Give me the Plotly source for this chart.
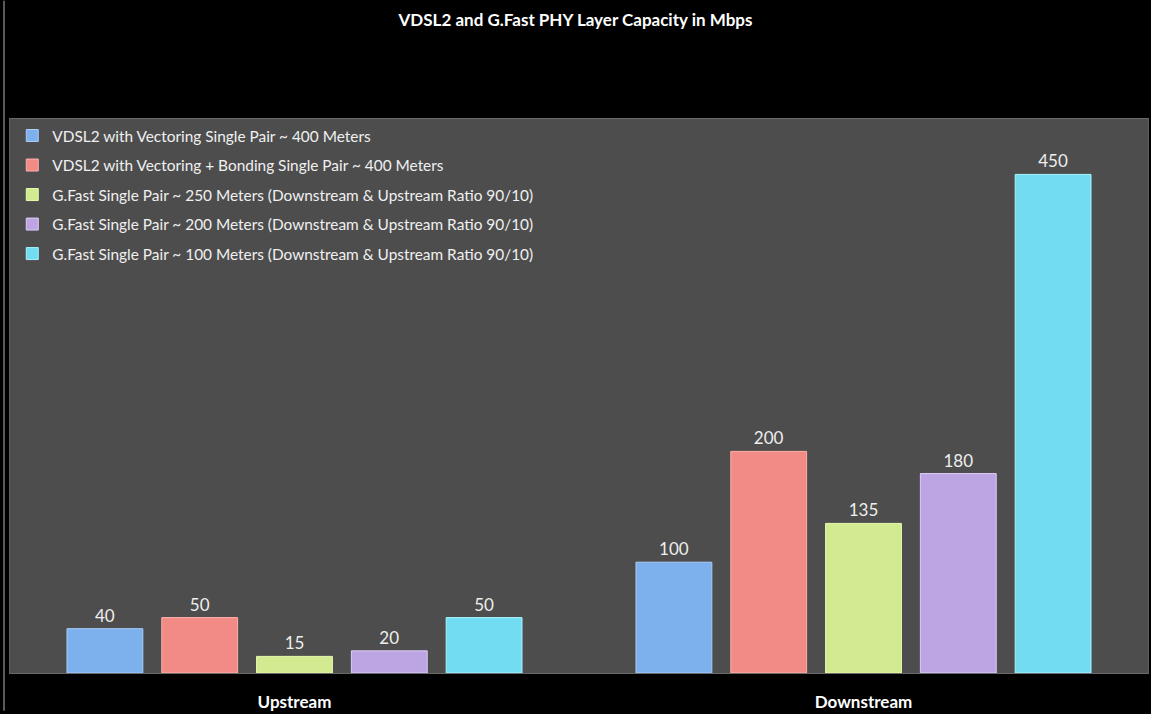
import plotly.graph_objects as go

categories = ["Upstream", "Downstream"]
series_names = [
    "VDSL2 with Vectoring Single Pair ~ 400 Meters",
    "VDSL2 with Vectoring + Bonding Single Pair ~ 400 Meters",
    "G.Fast Single Pair ~ 250 Meters (Downstream & Upstream Ratio 90/10)",
    "G.Fast Single Pair ~ 200 Meters (Downstream & Upstream Ratio 90/10)",
    "G.Fast Single Pair ~ 100 Meters (Downstream & Upstream Ratio 90/10)",
]
vdsl2_vectoring = [40, 100]
vdsl2_bonding = [50, 200]
gfast_250 = [15, 135]
gfast_200 = [20, 180]
gfast_100 = [50, 450]
series_values = [vdsl2_vectoring, vdsl2_bonding, gfast_250, gfast_200, gfast_100]
colors = ["#7cb1ee", "#f28b86", "#d2ea90", "#bca5e2", "#72dcf2"]
edge_colors = ["#a9cdf8", "#ffb0ad", "#e8fbb0", "#ddcdf8", "#aaf4fe"]

W, H = 1151, 714
ML, MR, MT, MB = 10, 2, 119, 38
PW, PH = W - ML - MR, H - MT - MB

fig = go.Figure()
for i, (name, vals) in enumerate(zip(series_names, series_values)):
    fig.add_trace(go.Bar(
        x=categories, y=vals, name=name,
        legendgroup=f"g{i}",
        marker=dict(color=colors[i], line=dict(color=edge_colors[i], width=1)),
        text=[str(v) for v in vals], textposition="outside",
        textfont=dict(family="Lato", size=17, color="#eeeeee"),
        cliponaxis=False,
    ))

fig.add_shape(type="line", xref="paper", yref="paper",
              x0=(4 - ML) / PW, x1=(4 - ML) / PW,
              y0=-MB / PH, y1=1 + MT / PH,
              line=dict(color="#5a5a5a", width=2))

fig.update_layout(
    width=W, height=H,
    paper_bgcolor="#000000", plot_bgcolor="#4d4d4d",
    margin=dict(l=ML, r=MR, t=MT, b=MB),
    title=dict(text="<b>VDSL2 and G.Fast PHY Layer Capacity in Mbps</b>",
               x=0.5, xanchor="center", y=0.972, yanchor="middle",
               font=dict(family="Lato", size=17, color="#ffffff")),
    barmode="group", bargap=0.167, bargroupgap=0.2,
    legend=dict(x=0.002, y=1.0, xanchor="left", yanchor="top",
                bgcolor="rgba(0,0,0,0)", traceorder="grouped",
                tracegroupgap=6.5, itemwidth=30,
                font=dict(family="Lato", size=15.4, color="#f0f0f0")),
    showlegend=True,
    xaxis=dict(showgrid=False, ticks="", ticklabelstandoff=14,
               tickfont=dict(family="Lato", size=17, color="#ffffff", weight="bold"),
               showline=True, linecolor="#6a6a6a", linewidth=1, mirror=True),
    yaxis=dict(range=[0, 500], visible=True, showticklabels=False, showgrid=False,
               zeroline=False, showline=True, linecolor="#5e5e5e", mirror=True),
)
fig.write_html("out.html", config={"displayModeBar": False},
               post_script="document.body.style.margin='0';")
